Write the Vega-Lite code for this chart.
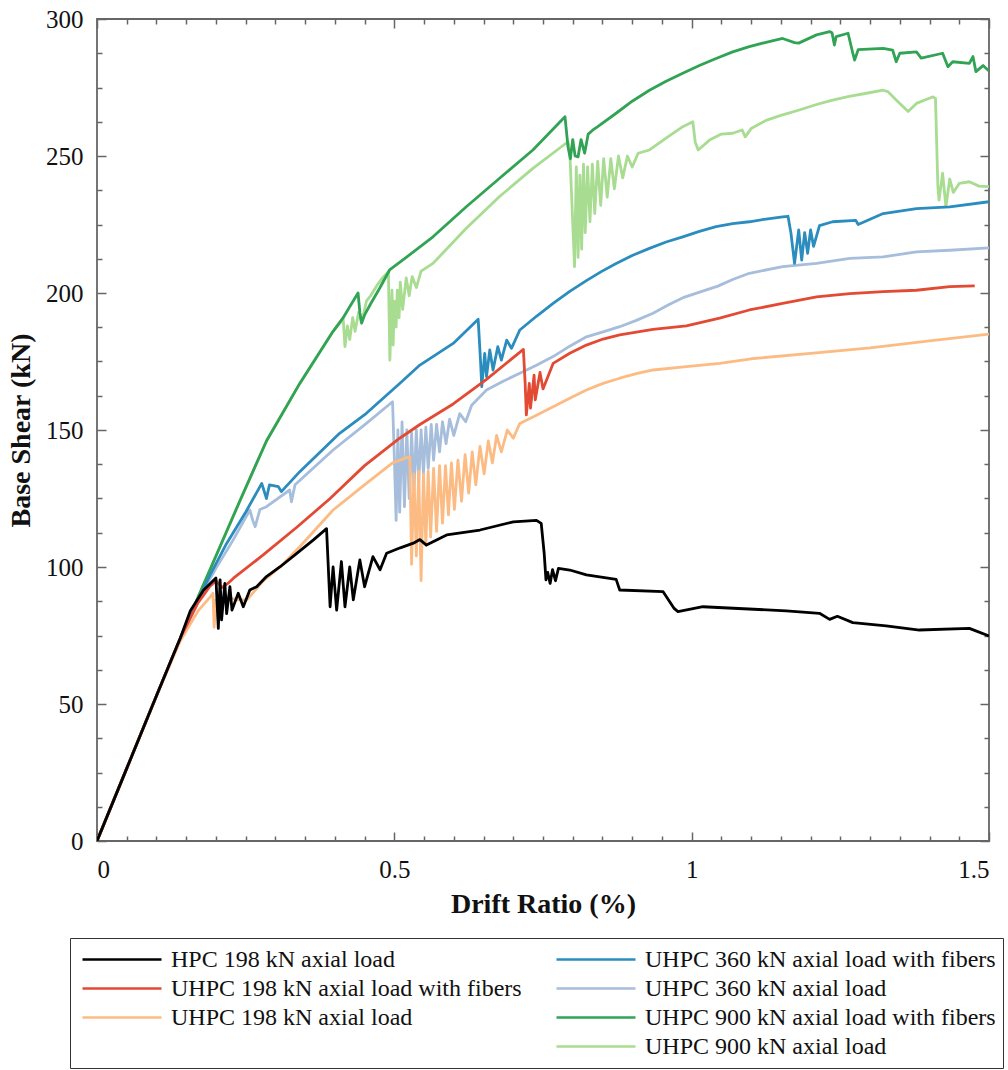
{
  "$schema": "https://vega.github.io/schema/vega-lite/v6.json",
  "width": 892,
  "height": 822,
  "autosize": {"type": "none"},
  "padding": {"left": 97, "top": 19, "right": 19, "bottom": 229},
  "background": "white",
  "config": {
    "font": "Liberation Serif",
    "view": {"stroke": "#666", "strokeWidth": 1.8},
    "axis": {"domain": false, "grid": false, "tickColor": "#666", "tickWidth": 1.5, "labelColor": "#111", "titleColor": "#111", "labelFont": "Liberation Serif", "titleFont": "Liberation Serif"}
  },
  "datasets": {
    "curves": [
      {"s":"UHPC 900 kN axial load","x":0,"y":0},{"s":"UHPC 900 kN axial load","x":0.05,"y":26.5},{"s":"UHPC 900 kN axial load","x":0.1,"y":53},{"s":"UHPC 900 kN axial load","x":0.14,"y":74},{"s":"UHPC 900 kN axial load","x":0.17,"y":89},{"s":"UHPC 900 kN axial load","x":0.2,"y":104},{"s":"UHPC 900 kN axial load","x":0.24,"y":124},{"s":"UHPC 900 kN axial load","x":0.285,"y":146},{"s":"UHPC 900 kN axial load","x":0.341,"y":167},{"s":"UHPC 900 kN axial load","x":0.397,"y":186},{"s":"UHPC 900 kN axial load","x":0.414,"y":190.5},{"s":"UHPC 900 kN axial load","x":0.417,"y":180.4},{"s":"UHPC 900 kN axial load","x":0.421,"y":188},{"s":"UHPC 900 kN axial load","x":0.425,"y":183},{"s":"UHPC 900 kN axial load","x":0.43,"y":191},{"s":"UHPC 900 kN axial load","x":0.434,"y":186},{"s":"UHPC 900 kN axial load","x":0.44,"y":193},{"s":"UHPC 900 kN axial load","x":0.445,"y":189},{"s":"UHPC 900 kN axial load","x":0.453,"y":197},{"s":"UHPC 900 kN axial load","x":0.46,"y":199},{"s":"UHPC 900 kN axial load","x":0.47,"y":202.5},{"s":"UHPC 900 kN axial load","x":0.48,"y":205.5},{"s":"UHPC 900 kN axial load","x":0.49,"y":207.8},{"s":"UHPC 900 kN axial load","x":0.4925,"y":175.5},{"s":"UHPC 900 kN axial load","x":0.496,"y":201},{"s":"UHPC 900 kN axial load","x":0.498,"y":181},{"s":"UHPC 900 kN axial load","x":0.5,"y":197},{"s":"UHPC 900 kN axial load","x":0.503,"y":187.6},{"s":"UHPC 900 kN axial load","x":0.505,"y":201},{"s":"UHPC 900 kN axial load","x":0.508,"y":191},{"s":"UHPC 900 kN axial load","x":0.51,"y":204},{"s":"UHPC 900 kN axial load","x":0.514,"y":194},{"s":"UHPC 900 kN axial load","x":0.52,"y":205.5},{"s":"UHPC 900 kN axial load","x":0.525,"y":199},{"s":"UHPC 900 kN axial load","x":0.53,"y":206},{"s":"UHPC 900 kN axial load","x":0.537,"y":202},{"s":"UHPC 900 kN axial load","x":0.545,"y":208},{"s":"UHPC 900 kN axial load","x":0.565,"y":210.8},{"s":"UHPC 900 kN axial load","x":0.621,"y":223.6},{"s":"UHPC 900 kN axial load","x":0.677,"y":235.2},{"s":"UHPC 900 kN axial load","x":0.733,"y":245.5},{"s":"UHPC 900 kN axial load","x":0.792,"y":255.2},{"s":"UHPC 900 kN axial load","x":0.795,"y":252},{"s":"UHPC 900 kN axial load","x":0.803,"y":209.6},{"s":"UHPC 900 kN axial load","x":0.806,"y":246},{"s":"UHPC 900 kN axial load","x":0.809,"y":213},{"s":"UHPC 900 kN axial load","x":0.812,"y":243},{"s":"UHPC 900 kN axial load","x":0.815,"y":216},{"s":"UHPC 900 kN axial load","x":0.818,"y":247},{"s":"UHPC 900 kN axial load","x":0.821,"y":222},{"s":"UHPC 900 kN axial load","x":0.825,"y":246},{"s":"UHPC 900 kN axial load","x":0.829,"y":226},{"s":"UHPC 900 kN axial load","x":0.833,"y":247},{"s":"UHPC 900 kN axial load","x":0.837,"y":229},{"s":"UHPC 900 kN axial load","x":0.842,"y":248},{"s":"UHPC 900 kN axial load","x":0.847,"y":232},{"s":"UHPC 900 kN axial load","x":0.852,"y":249},{"s":"UHPC 900 kN axial load","x":0.858,"y":235},{"s":"UHPC 900 kN axial load","x":0.864,"y":249},{"s":"UHPC 900 kN axial load","x":0.87,"y":238},{"s":"UHPC 900 kN axial load","x":0.877,"y":250},{"s":"UHPC 900 kN axial load","x":0.884,"y":242},{"s":"UHPC 900 kN axial load","x":0.892,"y":250},{"s":"UHPC 900 kN axial load","x":0.9,"y":246},{"s":"UHPC 900 kN axial load","x":0.91,"y":251},{"s":"UHPC 900 kN axial load","x":0.929,"y":252.2},{"s":"UHPC 900 kN axial load","x":0.96,"y":257},{"s":"UHPC 900 kN axial load","x":0.985,"y":260.7},{"s":"UHPC 900 kN axial load","x":1.002,"y":262.5},{"s":"UHPC 900 kN axial load","x":1.006,"y":255},{"s":"UHPC 900 kN axial load","x":1.011,"y":252.2},{"s":"UHPC 900 kN axial load","x":1.03,"y":255.8},{"s":"UHPC 900 kN axial load","x":1.05,"y":258},{"s":"UHPC 900 kN axial load","x":1.069,"y":258.3},{"s":"UHPC 900 kN axial load","x":1.085,"y":259.5},{"s":"UHPC 900 kN axial load","x":1.09,"y":257},{"s":"UHPC 900 kN axial load","x":1.1,"y":260},{"s":"UHPC 900 kN axial load","x":1.125,"y":263},{"s":"UHPC 900 kN axial load","x":1.15,"y":264.8},{"s":"UHPC 900 kN axial load","x":1.181,"y":266.8},{"s":"UHPC 900 kN axial load","x":1.21,"y":268.8},{"s":"UHPC 900 kN axial load","x":1.237,"y":270.4},{"s":"UHPC 900 kN axial load","x":1.265,"y":271.8},{"s":"UHPC 900 kN axial load","x":1.294,"y":272.9},{"s":"UHPC 900 kN axial load","x":1.322,"y":274},{"s":"UHPC 900 kN axial load","x":1.33,"y":273.5},{"s":"UHPC 900 kN axial load","x":1.344,"y":270.4},{"s":"UHPC 900 kN axial load","x":1.364,"y":266.2},{"s":"UHPC 900 kN axial load","x":1.378,"y":269.2},{"s":"UHPC 900 kN axial load","x":1.406,"y":271.6},{"s":"UHPC 900 kN axial load","x":1.41,"y":271},{"s":"UHPC 900 kN axial load","x":1.414,"y":238.8},{"s":"UHPC 900 kN axial load","x":1.416,"y":233.9},{"s":"UHPC 900 kN axial load","x":1.422,"y":243.7},{"s":"UHPC 900 kN axial load","x":1.4275,"y":231.5},{"s":"UHPC 900 kN axial load","x":1.434,"y":241.6},{"s":"UHPC 900 kN axial load","x":1.44,"y":236.7},{"s":"UHPC 900 kN axial load","x":1.45,"y":240},{"s":"UHPC 900 kN axial load","x":1.467,"y":240.6},{"s":"UHPC 900 kN axial load","x":1.483,"y":239},{"s":"UHPC 900 kN axial load","x":1.5,"y":238.8},

      {"s":"UHPC 900 kN axial load with fibers","x":0,"y":0},{"s":"UHPC 900 kN axial load with fibers","x":0.05,"y":26.5},{"s":"UHPC 900 kN axial load with fibers","x":0.1,"y":53},{"s":"UHPC 900 kN axial load with fibers","x":0.14,"y":74},{"s":"UHPC 900 kN axial load with fibers","x":0.17,"y":89},{"s":"UHPC 900 kN axial load with fibers","x":0.2,"y":104},{"s":"UHPC 900 kN axial load with fibers","x":0.24,"y":124},{"s":"UHPC 900 kN axial load with fibers","x":0.285,"y":146},{"s":"UHPC 900 kN axial load with fibers","x":0.341,"y":167},{"s":"UHPC 900 kN axial load with fibers","x":0.397,"y":186},{"s":"UHPC 900 kN axial load with fibers","x":0.414,"y":191},{"s":"UHPC 900 kN axial load with fibers","x":0.425,"y":195},{"s":"UHPC 900 kN axial load with fibers","x":0.439,"y":200},{"s":"UHPC 900 kN axial load with fibers","x":0.442,"y":193},{"s":"UHPC 900 kN axial load with fibers","x":0.445,"y":189},{"s":"UHPC 900 kN axial load with fibers","x":0.45,"y":192},{"s":"UHPC 900 kN axial load with fibers","x":0.46,"y":196},{"s":"UHPC 900 kN axial load with fibers","x":0.476,"y":202},{"s":"UHPC 900 kN axial load with fibers","x":0.492,"y":208.4},{"s":"UHPC 900 kN axial load with fibers","x":0.52,"y":213},{"s":"UHPC 900 kN axial load with fibers","x":0.565,"y":220.5},{"s":"UHPC 900 kN axial load with fibers","x":0.621,"y":231.5},{"s":"UHPC 900 kN axial load with fibers","x":0.677,"y":241.9},{"s":"UHPC 900 kN axial load with fibers","x":0.733,"y":252.2},{"s":"UHPC 900 kN axial load with fibers","x":0.787,"y":264.3},{"s":"UHPC 900 kN axial load with fibers","x":0.792,"y":253.4},{"s":"UHPC 900 kN axial load with fibers","x":0.796,"y":249},{"s":"UHPC 900 kN axial load with fibers","x":0.8,"y":256},{"s":"UHPC 900 kN axial load with fibers","x":0.804,"y":250},{"s":"UHPC 900 kN axial load with fibers","x":0.809,"y":249.7},{"s":"UHPC 900 kN axial load with fibers","x":0.814,"y":256},{"s":"UHPC 900 kN axial load with fibers","x":0.82,"y":251},{"s":"UHPC 900 kN axial load with fibers","x":0.826,"y":258},{"s":"UHPC 900 kN axial load with fibers","x":0.834,"y":259.5},{"s":"UHPC 900 kN axial load with fibers","x":0.842,"y":260.7},{"s":"UHPC 900 kN axial load with fibers","x":0.873,"y":265.6},{"s":"UHPC 900 kN axial load with fibers","x":0.9,"y":270},{"s":"UHPC 900 kN axial load with fibers","x":0.929,"y":274},{"s":"UHPC 900 kN axial load with fibers","x":0.957,"y":277.3},{"s":"UHPC 900 kN axial load with fibers","x":0.985,"y":280.2},{"s":"UHPC 900 kN axial load with fibers","x":1.013,"y":283},{"s":"UHPC 900 kN axial load with fibers","x":1.041,"y":285.6},{"s":"UHPC 900 kN axial load with fibers","x":1.069,"y":288},{"s":"UHPC 900 kN axial load with fibers","x":1.097,"y":289.9},{"s":"UHPC 900 kN axial load with fibers","x":1.125,"y":291.5},{"s":"UHPC 900 kN axial load with fibers","x":1.153,"y":292.9},{"s":"UHPC 900 kN axial load with fibers","x":1.173,"y":291.4},{"s":"UHPC 900 kN axial load with fibers","x":1.18,"y":291.2},{"s":"UHPC 900 kN axial load with fibers","x":1.21,"y":294.2},{"s":"UHPC 900 kN axial load with fibers","x":1.232,"y":295.4},{"s":"UHPC 900 kN axial load with fibers","x":1.236,"y":295},{"s":"UHPC 900 kN axial load with fibers","x":1.24,"y":290.5},{"s":"UHPC 900 kN axial load with fibers","x":1.243,"y":293.6},{"s":"UHPC 900 kN axial load with fibers","x":1.263,"y":294.8},{"s":"UHPC 900 kN axial load with fibers","x":1.271,"y":287.5},{"s":"UHPC 900 kN axial load with fibers","x":1.274,"y":285},{"s":"UHPC 900 kN axial load with fibers","x":1.28,"y":288.8},{"s":"UHPC 900 kN axial load with fibers","x":1.322,"y":289.3},{"s":"UHPC 900 kN axial load with fibers","x":1.338,"y":288.6},{"s":"UHPC 900 kN axial load with fibers","x":1.344,"y":284.4},{"s":"UHPC 900 kN axial load with fibers","x":1.35,"y":287.5},{"s":"UHPC 900 kN axial load with fibers","x":1.378,"y":288},{"s":"UHPC 900 kN axial load with fibers","x":1.386,"y":285.7},{"s":"UHPC 900 kN axial load with fibers","x":1.422,"y":287.5},{"s":"UHPC 900 kN axial load with fibers","x":1.431,"y":282.6},{"s":"UHPC 900 kN axial load with fibers","x":1.439,"y":284.4},{"s":"UHPC 900 kN axial load with fibers","x":1.467,"y":283.8},{"s":"UHPC 900 kN axial load with fibers","x":1.473,"y":286.3},{"s":"UHPC 900 kN axial load with fibers","x":1.478,"y":280.8},{"s":"UHPC 900 kN axial load with fibers","x":1.49,"y":283},{"s":"UHPC 900 kN axial load with fibers","x":1.5,"y":281},

      {"s":"UHPC 360 kN axial load","x":0,"y":0},{"s":"UHPC 360 kN axial load","x":0.05,"y":26.5},{"s":"UHPC 360 kN axial load","x":0.1,"y":53},{"s":"UHPC 360 kN axial load","x":0.14,"y":74},{"s":"UHPC 360 kN axial load","x":0.17,"y":88},{"s":"UHPC 360 kN axial load","x":0.2,"y":99.5},{"s":"UHPC 360 kN axial load","x":0.229,"y":109.9},{"s":"UHPC 360 kN axial load","x":0.257,"y":120.8},{"s":"UHPC 360 kN axial load","x":0.262,"y":117},{"s":"UHPC 360 kN axial load","x":0.266,"y":114.7},{"s":"UHPC 360 kN axial load","x":0.274,"y":121},{"s":"UHPC 360 kN axial load","x":0.285,"y":122},{"s":"UHPC 360 kN axial load","x":0.324,"y":128.1},{"s":"UHPC 360 kN axial load","x":0.327,"y":123.8},{"s":"UHPC 360 kN axial load","x":0.333,"y":130},{"s":"UHPC 360 kN axial load","x":0.397,"y":142.7},{"s":"UHPC 360 kN axial load","x":0.453,"y":152.4},{"s":"UHPC 360 kN axial load","x":0.497,"y":160.3},{"s":"UHPC 360 kN axial load","x":0.5,"y":140},{"s":"UHPC 360 kN axial load","x":0.503,"y":117},{"s":"UHPC 360 kN axial load","x":0.506,"y":150},{"s":"UHPC 360 kN axial load","x":0.509,"y":120},{"s":"UHPC 360 kN axial load","x":0.513,"y":153},{"s":"UHPC 360 kN axial load","x":0.517,"y":122},{"s":"UHPC 360 kN axial load","x":0.521,"y":150},{"s":"UHPC 360 kN axial load","x":0.525,"y":125},{"s":"UHPC 360 kN axial load","x":0.529,"y":149},{"s":"UHPC 360 kN axial load","x":0.533,"y":128},{"s":"UHPC 360 kN axial load","x":0.537,"y":150},{"s":"UHPC 360 kN axial load","x":0.541,"y":131},{"s":"UHPC 360 kN axial load","x":0.545,"y":150},{"s":"UHPC 360 kN axial load","x":0.549,"y":134},{"s":"UHPC 360 kN axial load","x":0.553,"y":151},{"s":"UHPC 360 kN axial load","x":0.557,"y":136},{"s":"UHPC 360 kN axial load","x":0.562,"y":152},{"s":"UHPC 360 kN axial load","x":0.566,"y":139},{"s":"UHPC 360 kN axial load","x":0.571,"y":152},{"s":"UHPC 360 kN axial load","x":0.576,"y":142},{"s":"UHPC 360 kN axial load","x":0.581,"y":153},{"s":"UHPC 360 kN axial load","x":0.587,"y":145},{"s":"UHPC 360 kN axial load","x":0.593,"y":154},{"s":"UHPC 360 kN axial load","x":0.6,"y":148},{"s":"UHPC 360 kN axial load","x":0.61,"y":156},{"s":"UHPC 360 kN axial load","x":0.62,"y":153},{"s":"UHPC 360 kN axial load","x":0.63,"y":159},{"s":"UHPC 360 kN axial load","x":0.655,"y":164.6},{"s":"UHPC 360 kN axial load","x":0.683,"y":167.8},{"s":"UHPC 360 kN axial load","x":0.711,"y":170.7},{"s":"UHPC 360 kN axial load","x":0.739,"y":173.6},{"s":"UHPC 360 kN axial load","x":0.767,"y":176.8},{"s":"UHPC 360 kN axial load","x":0.795,"y":180.6},{"s":"UHPC 360 kN axial load","x":0.823,"y":184},{"s":"UHPC 360 kN axial load","x":0.851,"y":185.8},{"s":"UHPC 360 kN axial load","x":0.879,"y":187.7},{"s":"UHPC 360 kN axial load","x":0.907,"y":190},{"s":"UHPC 360 kN axial load","x":0.935,"y":192.6},{"s":"UHPC 360 kN axial load","x":0.962,"y":195.8},{"s":"UHPC 360 kN axial load","x":0.988,"y":198.5},{"s":"UHPC 360 kN axial load","x":1.016,"y":200.5},{"s":"UHPC 360 kN axial load","x":1.044,"y":202.5},{"s":"UHPC 360 kN axial load","x":1.07,"y":205},{"s":"UHPC 360 kN axial load","x":1.097,"y":207.2},{"s":"UHPC 360 kN axial load","x":1.153,"y":209.6},{"s":"UHPC 360 kN axial load","x":1.21,"y":210.8},{"s":"UHPC 360 kN axial load","x":1.266,"y":212.6},{"s":"UHPC 360 kN axial load","x":1.322,"y":213.2},{"s":"UHPC 360 kN axial load","x":1.378,"y":215},{"s":"UHPC 360 kN axial load","x":1.434,"y":215.6},{"s":"UHPC 360 kN axial load","x":1.5,"y":216.5},

      {"s":"UHPC 360 kN axial load with fibers","x":0,"y":0},{"s":"UHPC 360 kN axial load with fibers","x":0.05,"y":26.5},{"s":"UHPC 360 kN axial load with fibers","x":0.1,"y":53},{"s":"UHPC 360 kN axial load with fibers","x":0.14,"y":74},{"s":"UHPC 360 kN axial load with fibers","x":0.17,"y":88},{"s":"UHPC 360 kN axial load with fibers","x":0.19,"y":97},{"s":"UHPC 360 kN axial load with fibers","x":0.218,"y":108.6},{"s":"UHPC 360 kN axial load with fibers","x":0.25,"y":120},{"s":"UHPC 360 kN axial load with fibers","x":0.277,"y":130.5},{"s":"UHPC 360 kN axial load with fibers","x":0.285,"y":125},{"s":"UHPC 360 kN axial load with fibers","x":0.29,"y":130},{"s":"UHPC 360 kN axial load with fibers","x":0.305,"y":129.3},{"s":"UHPC 360 kN axial load with fibers","x":0.31,"y":127.5},{"s":"UHPC 360 kN axial load with fibers","x":0.341,"y":134.8},{"s":"UHPC 360 kN axial load with fibers","x":0.408,"y":148.8},{"s":"UHPC 360 kN axial load with fibers","x":0.453,"y":156.1},{"s":"UHPC 360 kN axial load with fibers","x":0.509,"y":167},{"s":"UHPC 360 kN axial load with fibers","x":0.543,"y":173.7},{"s":"UHPC 360 kN axial load with fibers","x":0.599,"y":181.6},{"s":"UHPC 360 kN axial load with fibers","x":0.641,"y":190.4},{"s":"UHPC 360 kN axial load with fibers","x":0.645,"y":175},{"s":"UHPC 360 kN axial load with fibers","x":0.647,"y":165.8},{"s":"UHPC 360 kN axial load with fibers","x":0.652,"y":178},{"s":"UHPC 360 kN axial load with fibers","x":0.655,"y":169.5},{"s":"UHPC 360 kN axial load with fibers","x":0.6605,"y":179.2},{"s":"UHPC 360 kN axial load with fibers","x":0.666,"y":171.9},{"s":"UHPC 360 kN axial load with fibers","x":0.674,"y":180.4},{"s":"UHPC 360 kN axial load with fibers","x":0.68,"y":175.5},{"s":"UHPC 360 kN axial load with fibers","x":0.689,"y":182.8},{"s":"UHPC 360 kN axial load with fibers","x":0.697,"y":179.8},{"s":"UHPC 360 kN axial load with fibers","x":0.711,"y":186.5},{"s":"UHPC 360 kN axial load with fibers","x":0.739,"y":191.5},{"s":"UHPC 360 kN axial load with fibers","x":0.767,"y":196.2},{"s":"UHPC 360 kN axial load with fibers","x":0.795,"y":200.6},{"s":"UHPC 360 kN axial load with fibers","x":0.823,"y":204.5},{"s":"UHPC 360 kN axial load with fibers","x":0.848,"y":207.8},{"s":"UHPC 360 kN axial load with fibers","x":0.873,"y":210.8},{"s":"UHPC 360 kN axial load with fibers","x":0.901,"y":213.8},{"s":"UHPC 360 kN axial load with fibers","x":0.929,"y":216.3},{"s":"UHPC 360 kN axial load with fibers","x":0.957,"y":218.6},{"s":"UHPC 360 kN axial load with fibers","x":0.985,"y":220.5},{"s":"UHPC 360 kN axial load with fibers","x":1.013,"y":222.5},{"s":"UHPC 360 kN axial load with fibers","x":1.041,"y":224.2},{"s":"UHPC 360 kN axial load with fibers","x":1.069,"y":225.3},{"s":"UHPC 360 kN axial load with fibers","x":1.097,"y":226},{"s":"UHPC 360 kN axial load with fibers","x":1.125,"y":227},{"s":"UHPC 360 kN axial load with fibers","x":1.153,"y":227.8},{"s":"UHPC 360 kN axial load with fibers","x":1.162,"y":228},{"s":"UHPC 360 kN axial load with fibers","x":1.167,"y":221.8},{"s":"UHPC 360 kN axial load with fibers","x":1.173,"y":210.8},{"s":"UHPC 360 kN axial load with fibers","x":1.18,"y":223},{"s":"UHPC 360 kN axial load with fibers","x":1.185,"y":212},{"s":"UHPC 360 kN axial load with fibers","x":1.19,"y":222},{"s":"UHPC 360 kN axial load with fibers","x":1.195,"y":214.5},{"s":"UHPC 360 kN axial load with fibers","x":1.2,"y":223},{"s":"UHPC 360 kN axial load with fibers","x":1.205,"y":217},{"s":"UHPC 360 kN axial load with fibers","x":1.215,"y":224.6},{"s":"UHPC 360 kN axial load with fibers","x":1.237,"y":226},{"s":"UHPC 360 kN axial load with fibers","x":1.276,"y":226.5},{"s":"UHPC 360 kN axial load with fibers","x":1.28,"y":225},{"s":"UHPC 360 kN axial load with fibers","x":1.322,"y":229},{"s":"UHPC 360 kN axial load with fibers","x":1.378,"y":230.8},{"s":"UHPC 360 kN axial load with fibers","x":1.434,"y":231.4},{"s":"UHPC 360 kN axial load with fibers","x":1.5,"y":233.3},

      {"s":"UHPC 198 kN axial load","x":0,"y":0},{"s":"UHPC 198 kN axial load","x":0.05,"y":26.5},{"s":"UHPC 198 kN axial load","x":0.1,"y":53},{"s":"UHPC 198 kN axial load","x":0.14,"y":73},{"s":"UHPC 198 kN axial load","x":0.17,"y":84},{"s":"UHPC 198 kN axial load","x":0.19,"y":89},{"s":"UHPC 198 kN axial load","x":0.195,"y":90.4},{"s":"UHPC 198 kN axial load","x":0.197,"y":78},{"s":"UHPC 198 kN axial load","x":0.2,"y":88},{"s":"UHPC 198 kN axial load","x":0.21,"y":86},{"s":"UHPC 198 kN axial load","x":0.22,"y":89},{"s":"UHPC 198 kN axial load","x":0.235,"y":88},{"s":"UHPC 198 kN axial load","x":0.252,"y":88},{"s":"UHPC 198 kN axial load","x":0.28,"y":95},{"s":"UHPC 198 kN axial load","x":0.308,"y":100},{"s":"UHPC 198 kN axial load","x":0.341,"y":107.4},{"s":"UHPC 198 kN axial load","x":0.397,"y":120.8},{"s":"UHPC 198 kN axial load","x":0.453,"y":130.5},{"s":"UHPC 198 kN axial load","x":0.497,"y":138},{"s":"UHPC 198 kN axial load","x":0.526,"y":140.3},{"s":"UHPC 198 kN axial load","x":0.529,"y":101},{"s":"UHPC 198 kN axial load","x":0.533,"y":134},{"s":"UHPC 198 kN axial load","x":0.537,"y":104},{"s":"UHPC 198 kN axial load","x":0.541,"y":135},{"s":"UHPC 198 kN axial load","x":0.545,"y":95},{"s":"UHPC 198 kN axial load","x":0.549,"y":134},{"s":"UHPC 198 kN axial load","x":0.553,"y":108},{"s":"UHPC 198 kN axial load","x":0.557,"y":135},{"s":"UHPC 198 kN axial load","x":0.561,"y":111},{"s":"UHPC 198 kN axial load","x":0.566,"y":136},{"s":"UHPC 198 kN axial load","x":0.571,"y":113},{"s":"UHPC 198 kN axial load","x":0.576,"y":137},{"s":"UHPC 198 kN axial load","x":0.581,"y":116},{"s":"UHPC 198 kN axial load","x":0.586,"y":137},{"s":"UHPC 198 kN axial load","x":0.591,"y":119},{"s":"UHPC 198 kN axial load","x":0.596,"y":138},{"s":"UHPC 198 kN axial load","x":0.601,"y":121},{"s":"UHPC 198 kN axial load","x":0.607,"y":139},{"s":"UHPC 198 kN axial load","x":0.613,"y":124},{"s":"UHPC 198 kN axial load","x":0.619,"y":141},{"s":"UHPC 198 kN axial load","x":0.625,"y":127},{"s":"UHPC 198 kN axial load","x":0.631,"y":142},{"s":"UHPC 198 kN axial load","x":0.637,"y":130},{"s":"UHPC 198 kN axial load","x":0.644,"y":144},{"s":"UHPC 198 kN axial load","x":0.651,"y":134},{"s":"UHPC 198 kN axial load","x":0.658,"y":146},{"s":"UHPC 198 kN axial load","x":0.665,"y":138},{"s":"UHPC 198 kN axial load","x":0.672,"y":148},{"s":"UHPC 198 kN axial load","x":0.68,"y":142},{"s":"UHPC 198 kN axial load","x":0.69,"y":150},{"s":"UHPC 198 kN axial load","x":0.7,"y":147},{"s":"UHPC 198 kN axial load","x":0.711,"y":152.4},{"s":"UHPC 198 kN axial load","x":0.739,"y":155.4},{"s":"UHPC 198 kN axial load","x":0.767,"y":158.5},{"s":"UHPC 198 kN axial load","x":0.795,"y":161.6},{"s":"UHPC 198 kN axial load","x":0.823,"y":164.6},{"s":"UHPC 198 kN axial load","x":0.851,"y":167},{"s":"UHPC 198 kN axial load","x":0.879,"y":168.9},{"s":"UHPC 198 kN axial load","x":0.907,"y":170.6},{"s":"UHPC 198 kN axial load","x":0.935,"y":171.9},{"s":"UHPC 198 kN axial load","x":0.991,"y":173.1},{"s":"UHPC 198 kN axial load","x":1.047,"y":174.3},{"s":"UHPC 198 kN axial load","x":1.1,"y":176},{"s":"UHPC 198 kN axial load","x":1.2,"y":178},{"s":"UHPC 198 kN axial load","x":1.3,"y":180},{"s":"UHPC 198 kN axial load","x":1.4,"y":182.5},{"s":"UHPC 198 kN axial load","x":1.5,"y":185},

      {"s":"UHPC 198 kN axial load with fibers","x":0,"y":0},{"s":"UHPC 198 kN axial load with fibers","x":0.05,"y":26.5},{"s":"UHPC 198 kN axial load with fibers","x":0.1,"y":53},{"s":"UHPC 198 kN axial load with fibers","x":0.14,"y":74},{"s":"UHPC 198 kN axial load with fibers","x":0.17,"y":87},{"s":"UHPC 198 kN axial load with fibers","x":0.19,"y":93},{"s":"UHPC 198 kN axial load with fibers","x":0.2,"y":95},{"s":"UHPC 198 kN axial load with fibers","x":0.21,"y":92.5},{"s":"UHPC 198 kN axial load with fibers","x":0.22,"y":94},{"s":"UHPC 198 kN axial load with fibers","x":0.23,"y":96},{"s":"UHPC 198 kN axial load with fibers","x":0.28,"y":104.5},{"s":"UHPC 198 kN axial load with fibers","x":0.336,"y":114.5},{"s":"UHPC 198 kN axial load with fibers","x":0.392,"y":125},{"s":"UHPC 198 kN axial load with fibers","x":0.45,"y":137},{"s":"UHPC 198 kN axial load with fibers","x":0.509,"y":147},{"s":"UHPC 198 kN axial load with fibers","x":0.543,"y":152},{"s":"UHPC 198 kN axial load with fibers","x":0.599,"y":159.5},{"s":"UHPC 198 kN axial load with fibers","x":0.655,"y":168.5},{"s":"UHPC 198 kN axial load with fibers","x":0.717,"y":179.4},{"s":"UHPC 198 kN axial load with fibers","x":0.72,"y":167},{"s":"UHPC 198 kN axial load with fibers","x":0.722,"y":155.5},{"s":"UHPC 198 kN axial load with fibers","x":0.727,"y":167},{"s":"UHPC 198 kN axial load with fibers","x":0.729,"y":158},{"s":"UHPC 198 kN axial load with fibers","x":0.735,"y":170},{"s":"UHPC 198 kN axial load with fibers","x":0.737,"y":161},{"s":"UHPC 198 kN axial load with fibers","x":0.745,"y":171},{"s":"UHPC 198 kN axial load with fibers","x":0.75,"y":165},{"s":"UHPC 198 kN axial load with fibers","x":0.767,"y":174.3},{"s":"UHPC 198 kN axial load with fibers","x":0.795,"y":178},{"s":"UHPC 198 kN axial load with fibers","x":0.823,"y":181},{"s":"UHPC 198 kN axial load with fibers","x":0.851,"y":183.2},{"s":"UHPC 198 kN axial load with fibers","x":0.879,"y":184.7},{"s":"UHPC 198 kN axial load with fibers","x":0.935,"y":186.7},{"s":"UHPC 198 kN axial load with fibers","x":0.991,"y":188},{"s":"UHPC 198 kN axial load with fibers","x":1.047,"y":190.8},{"s":"UHPC 198 kN axial load with fibers","x":1.097,"y":193.8},{"s":"UHPC 198 kN axial load with fibers","x":1.153,"y":196.2},{"s":"UHPC 198 kN axial load with fibers","x":1.21,"y":198.6},{"s":"UHPC 198 kN axial load with fibers","x":1.266,"y":199.8},{"s":"UHPC 198 kN axial load with fibers","x":1.322,"y":200.5},{"s":"UHPC 198 kN axial load with fibers","x":1.378,"y":201},{"s":"UHPC 198 kN axial load with fibers","x":1.434,"y":202.3},{"s":"UHPC 198 kN axial load with fibers","x":1.476,"y":202.6},

      {"s":"HPC 198 kN axial load","x":0,"y":0},{"s":"HPC 198 kN axial load","x":0.05,"y":26.5},{"s":"HPC 198 kN axial load","x":0.1,"y":53},{"s":"HPC 198 kN axial load","x":0.14,"y":74},{"s":"HPC 198 kN axial load","x":0.157,"y":84},{"s":"HPC 198 kN axial load","x":0.179,"y":91.5},{"s":"HPC 198 kN axial load","x":0.2,"y":96},{"s":"HPC 198 kN axial load","x":0.204,"y":77.6},{"s":"HPC 198 kN axial load","x":0.207,"y":95.3},{"s":"HPC 198 kN axial load","x":0.2095,"y":80.7},{"s":"HPC 198 kN axial load","x":0.215,"y":94},{"s":"HPC 198 kN axial load","x":0.218,"y":83},{"s":"HPC 198 kN axial load","x":0.2235,"y":92.8},{"s":"HPC 198 kN axial load","x":0.227,"y":84.3},{"s":"HPC 198 kN axial load","x":0.2375,"y":90.4},{"s":"HPC 198 kN axial load","x":0.246,"y":85.5},{"s":"HPC 198 kN axial load","x":0.257,"y":91.6},{"s":"HPC 198 kN axial load","x":0.2685,"y":92.8},{"s":"HPC 198 kN axial load","x":0.285,"y":96.5},{"s":"HPC 198 kN axial load","x":0.308,"y":100.1},{"s":"HPC 198 kN axial load","x":0.336,"y":105},{"s":"HPC 198 kN axial load","x":0.364,"y":109.9},{"s":"HPC 198 kN axial load","x":0.386,"y":114},{"s":"HPC 198 kN axial load","x":0.392,"y":85.5},{"s":"HPC 198 kN axial load","x":0.397,"y":100},{"s":"HPC 198 kN axial load","x":0.403,"y":84.3},{"s":"HPC 198 kN axial load","x":0.411,"y":102},{"s":"HPC 198 kN axial load","x":0.417,"y":85.5},{"s":"HPC 198 kN axial load","x":0.425,"y":100},{"s":"HPC 198 kN axial load","x":0.431,"y":88},{"s":"HPC 198 kN axial load","x":0.442,"y":102.6},{"s":"HPC 198 kN axial load","x":0.45,"y":92.8},{"s":"HPC 198 kN axial load","x":0.464,"y":103.8},{"s":"HPC 198 kN axial load","x":0.476,"y":99},{"s":"HPC 198 kN axial load","x":0.487,"y":105},{"s":"HPC 198 kN axial load","x":0.51,"y":107},{"s":"HPC 198 kN axial load","x":0.532,"y":108.7},{"s":"HPC 198 kN axial load","x":0.543,"y":110},{"s":"HPC 198 kN axial load","x":0.554,"y":108},{"s":"HPC 198 kN axial load","x":0.588,"y":111.7},{"s":"HPC 198 kN axial load","x":0.644,"y":113.5},{"s":"HPC 198 kN axial load","x":0.7,"y":116.5},{"s":"HPC 198 kN axial load","x":0.739,"y":117},{"s":"HPC 198 kN axial load","x":0.747,"y":115.9},{"s":"HPC 198 kN axial load","x":0.752,"y":105},{"s":"HPC 198 kN axial load","x":0.755,"y":95.3},{"s":"HPC 198 kN axial load","x":0.758,"y":98},{"s":"HPC 198 kN axial load","x":0.762,"y":94},{"s":"HPC 198 kN axial load","x":0.766,"y":99},{"s":"HPC 198 kN axial load","x":0.771,"y":95},{"s":"HPC 198 kN axial load","x":0.776,"y":99.5},{"s":"HPC 198 kN axial load","x":0.795,"y":98.9},{"s":"HPC 198 kN axial load","x":0.823,"y":97.1},{"s":"HPC 198 kN axial load","x":0.873,"y":95.5},{"s":"HPC 198 kN axial load","x":0.879,"y":91.6},{"s":"HPC 198 kN axial load","x":0.952,"y":91},{"s":"HPC 198 kN axial load","x":0.97,"y":85},{"s":"HPC 198 kN axial load","x":0.977,"y":83.7},{"s":"HPC 198 kN axial load","x":1.019,"y":85.5},{"s":"HPC 198 kN axial load","x":1.159,"y":84},{"s":"HPC 198 kN axial load","x":1.215,"y":83.1},{"s":"HPC 198 kN axial load","x":1.232,"y":80.9},{"s":"HPC 198 kN axial load","x":1.245,"y":82},{"s":"HPC 198 kN axial load","x":1.271,"y":79.7},{"s":"HPC 198 kN axial load","x":1.327,"y":78.5},{"s":"HPC 198 kN axial load","x":1.383,"y":77},{"s":"HPC 198 kN axial load","x":1.467,"y":77.6},{"s":"HPC 198 kN axial load","x":1.5,"y":74.8}
    ]
  },
  "data": {"name": "curves"},
  "layer": [
    {
      "mark": {"type": "line", "strokeWidth": 2.8, "strokeJoin": "round", "clip": true},
      "encoding": {
        "x": {"field": "x", "type": "quantitative", "scale": {"domain": [0, 1.5], "nice": false, "zero": false},
          "axis": {"orient": "bottom", "values": [0, 0.5, 1, 1.5], "format": "~g", "title": "Drift Ratio (%)", "tickSize": -9, "labelPadding": 25, "labelFontSize": 25, "titleFontSize": 28, "titleFontWeight": "bold", "titlePadding": 8}},
        "y": {"field": "y", "type": "quantitative", "scale": {"domain": [0, 300], "nice": false},
          "axis": {"orient": "left", "values": [0, 50, 100, 150, 200, 250, 300], "title": "Base Shear (kN)", "tickSize": -9, "labelPadding": 23, "labelFontSize": 25, "titleFontSize": 28, "titleFontWeight": "bold", "titlePadding": 10}},
        "color": {"field": "s", "type": "nominal",
          "scale": {
            "domain": ["HPC 198 kN axial load", "UHPC 198 kN axial load with fibers", "UHPC 198 kN axial load", " ", "UHPC 360 kN axial load with fibers", "UHPC 360 kN axial load", "UHPC 900 kN axial load with fibers", "UHPC 900 kN axial load"],
            "range": ["#000000", "#e34a33", "#fdbb84", "#ffffff", "#2b8cbe", "#a6bddb", "#31a354", "#a8dc90"]
          },
          "legend": {"orient": "none", "legendX": -27, "legendY": 919, "columns": 2, "title": null, "symbolType": "stroke", "symbolSize": 6241, "symbolStrokeWidth": 2.5, "symbolOffset": 4, "labelOffset": 8, "labelFontSize": 24, "labelColor": "#111", "labelLimit": 600, "clipHeight": 29, "rowPadding": 0, "columnPadding": 29, "padding": 7, "strokeColor": "#333"}
        }
      }
    },
    {
      "mark": {"type": "line", "opacity": 0},
      "encoding": {
        "x": {"field": "x", "type": "quantitative", "scale": {"domain": [0, 1.5], "nice": false, "zero": false},
          "axis": {"orient": "bottom", "values": [0.05,0.1,0.15,0.2,0.25,0.3,0.35,0.4,0.45,0.55,0.6,0.65,0.7,0.75,0.8,0.85,0.9,0.95,1.05,1.1,1.15,1.2,1.25,1.3,1.35,1.4,1.45], "labels": false, "title": null, "tickSize": -5}},
        "y": {"field": "y", "type": "quantitative", "scale": {"domain": [0, 300], "nice": false},
          "axis": {"orient": "left", "values": [12.5,25,37.5,62.5,75,87.5,112.5,125,137.5,162.5,175,187.5,212.5,225,237.5,262.5,275,287.5], "labels": false, "title": null, "tickSize": -5}}
      }
    },
    {
      "mark": {"type": "line", "opacity": 0},
      "encoding": {
        "x": {"field": "x", "type": "quantitative", "scale": {"domain": [0, 1.5], "nice": false, "zero": false},
          "axis": {"orient": "top", "values": [0, 0.5, 1, 1.5], "labels": false, "title": null, "tickSize": -9}},
        "y": {"field": "y", "type": "quantitative", "scale": {"domain": [0, 300], "nice": false},
          "axis": {"orient": "right", "values": [0, 50, 100, 150, 200, 250, 300], "labels": false, "title": null, "tickSize": -9}}
      }
    },
    {
      "mark": {"type": "line", "opacity": 0},
      "encoding": {
        "x": {"field": "x", "type": "quantitative", "scale": {"domain": [0, 1.5], "nice": false, "zero": false},
          "axis": {"orient": "top", "values": [0.05,0.1,0.15,0.2,0.25,0.3,0.35,0.4,0.45,0.55,0.6,0.65,0.7,0.75,0.8,0.85,0.9,0.95,1.05,1.1,1.15,1.2,1.25,1.3,1.35,1.4,1.45], "labels": false, "title": null, "tickSize": -5}},
        "y": {"field": "y", "type": "quantitative", "scale": {"domain": [0, 300], "nice": false},
          "axis": {"orient": "right", "values": [12.5,25,37.5,62.5,75,87.5,112.5,125,137.5,162.5,175,187.5,212.5,225,237.5,262.5,275,287.5], "labels": false, "title": null, "tickSize": -5}}
      }
    }
  ],
  "resolve": {"axis": {"x": "independent", "y": "independent"}}
}
